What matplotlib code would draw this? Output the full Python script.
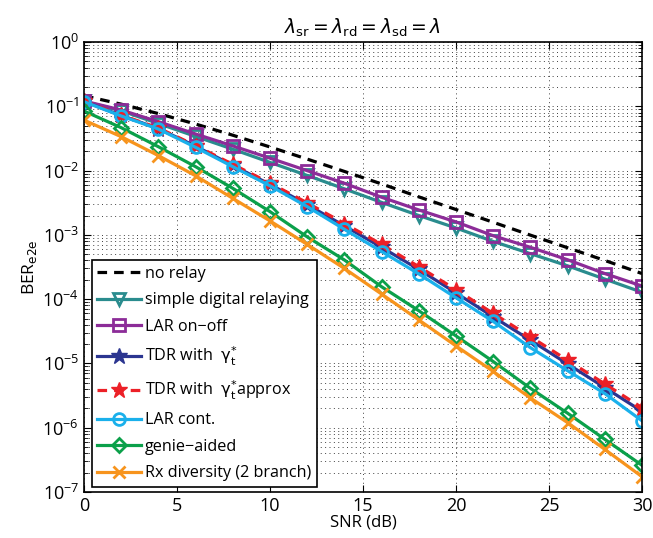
import numpy as np
import matplotlib
matplotlib.use('Agg')
import matplotlib.pyplot as plt
from matplotlib.ticker import LogLocator, NullFormatter, MultipleLocator

plt.rcParams['font.family'] = ['Open Sans', 'DejaVu Sans']
plt.rcParams['mathtext.fontset'] = 'dejavusans'

# SNR grid (dB)
snr = [0, 2, 4, 6, 8, 10, 12, 14, 16, 18, 20, 22, 24, 26, 28, 30]

# BER values
ber_no_relay = [0.146, 0.108, 0.077, 0.053, 0.0355, 0.0233, 0.0151, 0.0097, 0.0062,
                0.0039, 0.00248, 0.00157, 0.00099, 0.00063, 0.0004, 0.00025]
ber_simple = [0.119, 0.085, 0.054, 0.034, 0.0215, 0.0134, 0.0084, 0.0052, 0.0032,
              0.002, 0.00128, 0.00079, 0.00051, 0.00033, 0.000205, 0.000128]
ber_lar_onoff = [0.121, 0.0875, 0.0576, 0.0371, 0.0242, 0.0156, 0.00998, 0.00635, 0.00385,
                 0.00244, 0.00159, 0.00097, 0.00064, 0.00041, 0.00025, 0.00016]
ber_tdr = [0.119, 0.072, 0.045, 0.024, 0.012, 0.0061, 0.00295, 0.00138, 0.00064,
           0.00029, 0.000125, 5.3e-5, 2.3e-5, 9.8e-6, 4.2e-6, 1.8e-6]
ber_tdr_approx = [0.12, 0.073, 0.046, 0.0245, 0.0125, 0.0064, 0.00315, 0.0015, 0.00071,
                  0.00032, 0.00014, 6.0e-5, 2.6e-5, 1.12e-5, 4.8e-6, 2.05e-6]
ber_lar_cont = [0.118, 0.0707, 0.0443, 0.023, 0.0115, 0.0058, 0.00275, 0.00122, 0.00055,
                0.000247, 0.000105, 4.5e-5, 1.76e-5, 7.7e-6, 3.4e-6, 1.28e-6]
ber_genie = [0.0845, 0.0465, 0.0235, 0.0115, 0.0053, 0.0023, 0.00093, 0.000407, 0.000156,
             6.6e-5, 2.68e-5, 1.07e-5, 4.1e-6, 1.68e-6, 6.6e-7, 2.6e-7]
ber_rx_div = [0.061, 0.0337, 0.0171, 0.0083, 0.0037, 0.00165, 0.00071, 0.0003, 0.00012,
              4.75e-5, 1.87e-5, 7.5e-6, 2.9e-6, 1.2e-6, 4.6e-7, 1.73e-7]

fig = plt.figure(figsize=(6.53, 5.38), dpi=100)
ax = fig.add_axes([0.1286, 0.0855, 0.8546, 0.8364])

lw = 2.3
ms = 8.5
ax.semilogy(snr, ber_no_relay, 'k--', lw=lw, dashes=(3, 2.2), label='no relay')
ax.semilogy(snr, ber_simple, '-v', color='#2a8c8e', lw=lw, ms=ms, mfc='none', mew=2,
            label='simple digital relaying')
ax.semilogy(snr, ber_lar_onoff, '-s', color='#8c2c98', lw=lw, ms=ms, mfc='none', mew=2,
            label='LAR on\u2212off')
ax.semilogy(snr, ber_tdr, '-*', color='#2b3590', lw=lw, ms=12, mew=1,
            label=r'TDR with  $\mathrm{\gamma}_{\mathrm{t}}^{*}$')
ax.semilogy(snr, ber_tdr_approx, '--*', color='#ec2027', lw=lw, ms=12, mew=1,
            dashes=(3, 2.2), label=r'TDR with  $\mathrm{\gamma}_{\mathrm{t}}^{*}$approx')
ax.semilogy(snr, ber_lar_cont, '-o', color='#1ab0eb', lw=lw, ms=ms, mfc='none', mew=2,
            label='LAR cont.')
ax.semilogy(snr, ber_genie, '-D', color='#0ba04a', lw=lw, ms=7.5, mfc='none', mew=2,
            label='genie\u2212aided')
ax.semilogy(snr, ber_rx_div, '-x', color='#f7941d', lw=lw, ms=9, mew=2,
            label='Rx diversity (2 branch)')

ax.set_xlim(0, 30)
ax.set_ylim(1e-7, 1)
ax.set_xticks([0, 5, 10, 15, 20, 25, 30])
ax.set_yticks([10.0 ** k for k in range(-7, 1)])
ax.yaxis.set_minor_locator(LogLocator(base=10, subs=np.arange(2, 10), numticks=20))
ax.yaxis.set_minor_formatter(NullFormatter())

grid_style = dict(linestyle=(0, (1, 3.5)), color='0.25', lw=0.7)
ax.grid(True, which='major', axis='both', **grid_style)
ax.grid(True, which='minor', axis='y', **grid_style)
ax.tick_params(which='both', direction='in', top=True, right=True, labelsize=13)
ax.tick_params(which='major', length=5)
ax.tick_params(which='minor', length=3)
for s in ax.spines.values():
    s.set_linewidth(1.2)

ax.set_xlabel('SNR (dB)', fontsize=12, labelpad=0)
ax.set_ylabel(r'BER$_{\mathrm{e2e}}$', fontsize=12.5, labelpad=2)
ax.set_title(r'$\lambda_{\mathrm{sr}} = \lambda_{\mathrm{rd}} = \lambda_{\mathrm{sd}} = \lambda$',
             fontsize=13.5, pad=6)

leg = ax.legend(loc='lower left', bbox_to_anchor=(0.014, 0.011), borderaxespad=0,
                fontsize=11.6, fancybox=False, edgecolor='k', framealpha=1,
                handlelength=2.7, handletextpad=0.25, labelspacing=0.65,
                borderpad=0.35)
leg.get_frame().set_linewidth(1.2)

fig.savefig('out.png', dpi=100)
